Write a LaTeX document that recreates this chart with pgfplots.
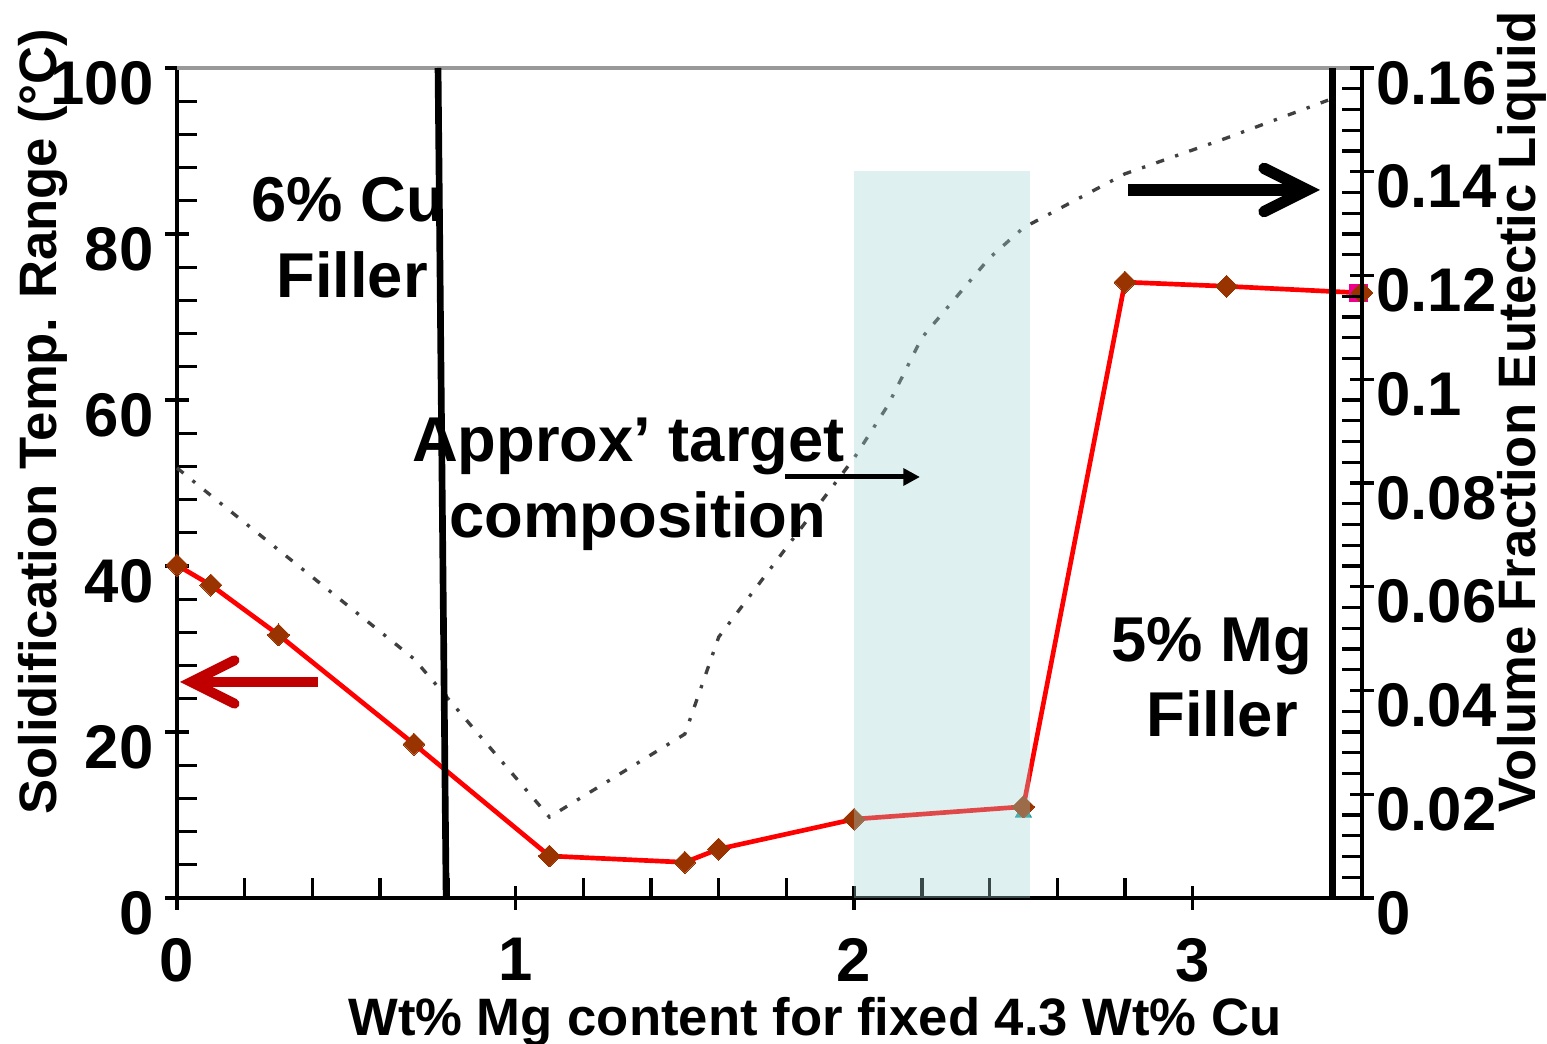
\documentclass[border=0pt]{standalone}
\usepackage{fontspec}
\setmainfont{Liberation Sans}
\usepackage{pgfplots}
\pgfplotsset{compat=1.18}
\usetikzlibrary{arrows.meta}
\definecolor{redline}{HTML}{FF0000}
\definecolor{brownmark}{HTML}{993300}
\definecolor{darkred}{HTML}{C00000}
\definecolor{shadecol}{HTML}{A4D4D4}
\definecolor{dotgray}{HTML}{404040}
\definecolor{tealmk}{HTML}{1F9A9A}
\newcommand{\tickfont}{\fontsize{18.5}{20}\selectfont\bfseries}
\newcommand{\labfont}{\fontsize{15.8}{18}\selectfont\bfseries}
\newcommand{\annfont}{\fontsize{19}{22}\selectfont\bfseries}
\begin{document}
\begin{tikzpicture}
\pgfplotsset{
  common/.style={
    scale only axis, width=355.5pt, height=249pt,
    xmin=0, xmax=3.5, clip=false,
    axis line style={line width=1pt, black},
    every tick/.style={line width=1pt, black},
    tick align=center, major tick length=7pt, minor tick length=6pt,
    /pgf/number format/assume math mode=true,
    tick label style={font=\tickfont},
  }
}
\begin{axis}[common,
  ymin=0, ymax=100,
  axis x line*=bottom, axis y line*=left,
  xtick={0,1,2,3}, minor x tick num=4,
  ytick={0,20,40,60,80,100}, minor y tick num=4,
  minor x tick style={yshift=3pt},
  minor y tick style={xshift=3pt},
  xticklabel style={inner sep=0pt, text depth=0pt, yshift=-8.4pt},
  yticklabel style={yshift=-4.5pt},
]
\addplot[redline, line width=1.4pt, mark=square*, mark size=2.33pt,
  mark options={rotate=45, fill=brownmark, draw=brownmark, line width=0pt}]
  coordinates {(0,40.1) (0.1,37.7) (0.3,31.7) (0.7,18.55) (1.1,5.06) (1.5,4.3) (1.6,5.9) (2.0,9.5) (2.5,11.0) (2.8,74.2) (3.1,73.7) (3.5,72.9)};
\addplot[only marks, mark=triangle*, mark size=2.6pt, mark options={fill=tealmk, draw=tealmk}]
  coordinates {(2.5,10.3)};
\addplot[only marks, mark=square*, mark size=2.6pt, mark options={fill=magenta, draw=magenta}]
  coordinates {(3.49,72.9)};
\addplot[only marks, mark=square*, mark size=2.33pt,
  mark options={rotate=45, fill=brownmark, draw=brownmark, line width=0pt}]
  coordinates {(2.5,11.0) (3.5,72.9)};
\draw[gray!80, line width=1pt] (rel axis cs:0,1) -- (rel axis cs:1,1);
\end{axis}
\begin{axis}[common,
  ymin=0, ymax=0.16,
  axis x line=none, axis y line*=right,
  ytick={0,0.02,0.04,0.06,0.08,0.1,0.12,0.14,0.16},
  yticklabels={0,0.02,0.04,0.06,0.08,0.1,0.12,0.14,0.16},
  scaled y ticks=false,
  minor y tick num=4,
  minor y tick style={xshift=-3pt},
  yticklabel style={yshift=-4.5pt, xshift=-2.7pt},
]
\addplot[dotgray, line width=1pt, dash pattern=on 2.5pt off 3.5pt on 1pt off 3.5pt]
  coordinates {(0,0.0829) (0.1,0.0776) (0.3,0.0671) (0.7,0.0461) (1.1,0.0156) (1.5,0.0316) (1.6,0.0503) (2.0,0.0848) (2.1,0.0950) (2.2,0.108) (2.3,0.1157) (2.4,0.1234) (2.5,0.1292) (2.8,0.1396) (3.1,0.1465) (3.4,0.1538)};
\fill[shadecol, opacity=0.35] (axis cs:2,0) rectangle (axis cs:2.52,0.1402);
\draw[black, line width=2pt] (axis cs:0.771,0.16) -- (axis cs:0.795,0);
\draw[black, line width=2pt] (axis cs:3.412,0.16) -- (axis cs:3.412,0);
\end{axis}
% arrows (picture coords: x=(px-177)*0.3pt, y=(898-py)*0.3pt)
\draw[darkred, line width=3pt, -{Straight Barb[length=13pt, width=13pt, line cap=round]}] (42.3pt,64.8pt) -- (0.9pt,64.8pt);
\draw[black, line width=3.4pt, -{Straight Barb[length=13pt, width=13pt, line cap=round]}] (285.3pt,212.4pt) -- (342.9pt,212.4pt);
\draw[black, line width=1.5pt, -{Triangle[length=5pt, width=5pt]}] (182.4pt,126.3pt) -- (222.9pt,126.3pt);
% annotations
\node[anchor=base, font=\annfont, inner sep=0pt] at (51.3pt,202.8pt) {6\% Cu};
\node[anchor=base, font=\annfont, inner sep=0pt] at (52.5pt,180pt) {Filler};
\node[anchor=base, font=\annfont, inner sep=0pt] at (135.45pt,130.8pt) {Approx’ target};
\node[anchor=base, font=\annfont, inner sep=0pt] at (138.3pt,108pt) {composition};
\node[anchor=base, font=\annfont, inner sep=0pt] at (310.5pt,70.8pt) {5\% Mg};
\node[anchor=base, font=\annfont, inner sep=0pt] at (313.5pt,48.3pt) {Filler};
% axis labels
\node[anchor=base, font=\labfont, inner sep=0pt] at (191.4pt,-41.3pt) {Wt\% Mg content for fixed 4.3 Wt\% Cu};
\node[anchor=base, rotate=90, font=\labfont, inner sep=0pt] at (-36pt,142.8pt) {Solidification Temp. Range (°C)};
\node[anchor=base, rotate=90, font=\labfont, inner sep=0pt] at (407.4pt,145.8pt) {Volume Fraction Eutectic Liquid};
\pgfresetboundingbox
\path[use as bounding box] (-53.1pt,-43.8pt) rectangle (411pt,269.4pt);
\end{tikzpicture}
\end{document}
